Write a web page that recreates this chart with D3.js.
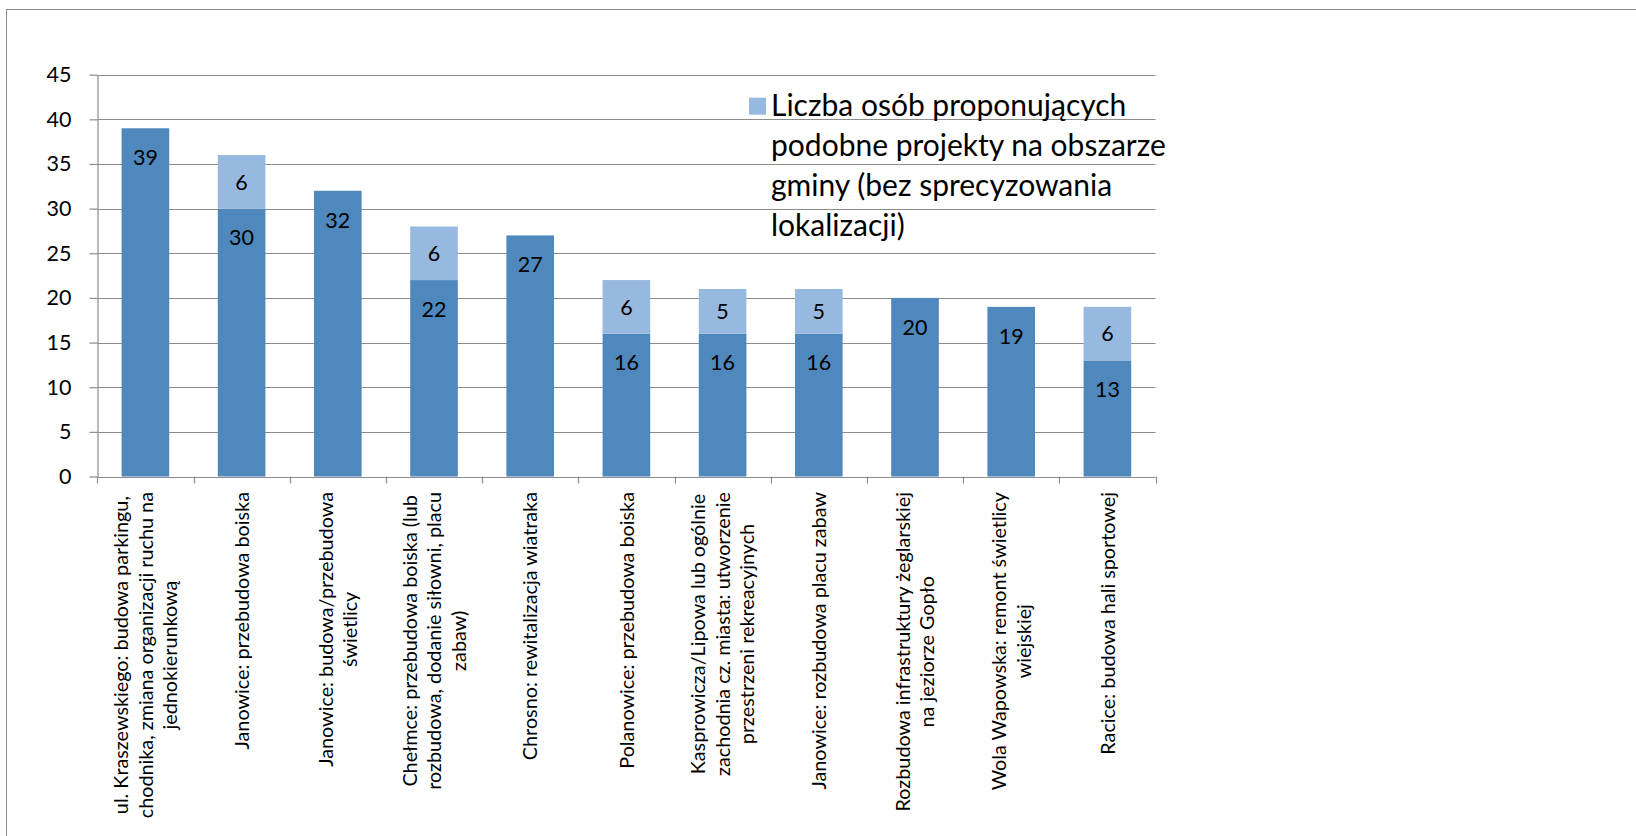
<!DOCTYPE html>
<html><head><meta charset="utf-8">
<script src="https://cdn.jsdelivr.net/npm/d3@7"></script>
<style>
body{margin:0;background:#fff}
svg{display:block}
text{font-family:Lato,"Open Sans",sans-serif;fill:#000}
</style>
</head><body>
<svg id="chart" width="1636" height="836"></svg>
<script>
const categories = [
  "ul. Kraszewskiego: budowa parkingu,|chodnika, zmiana organizacji ruchu na|jednokierunkową",
  "Janowice: przebudowa boiska",
  "Janowice: budowa/przebudowa|świetlicy",
  "Chełmce: przebudowa boiska (lub|rozbudowa, dodanie siłowni, placu|zabaw)",
  "Chrosno: rewitalizacja wiatraka",
  "Polanowice: przebudowa boiska",
  "Kasprowicza/Lipowa lub ogólnie|zachodnia cz. miasta: utworzenie|przestrzeni rekreacyjnych",
  "Janowice: rozbudowa placu zabaw",
  "Rozbudowa infrastruktury żeglarskiej|na jeziorze Gopło",
  "Wola Wapowska: remont świetlicy|wiejskiej",
  "Racice: budowa hali sportowej"
];
const baseValues  = [39, 30, 32, 22, 27, 16, 16, 16, 20, 19, 13];
const extraValues = [0, 6, 0, 6, 0, 6, 5, 5, 0, 0, 6];
const yTicks = [0, 5, 10, 15, 20, 25, 30, 35, 40, 45];
const legendLines = ["Liczba osób proponujących", "podobne projekty na obszarze", "gminy (bez sprecyzowania", "lokalizacji)"];

const svg = d3.select("#chart");
const plot = {left: 97.3, right: 1155.5, top: 74.7, bottom: 476.5};
const darkColor = "#4F88BD", lightColor = "#98B9DF", gridColor = "#8C8C8C";

// chart area frame
svg.append("rect").attr("x", 6.5).attr("y", 9.5).attr("width", 1700).attr("height", 900)
  .attr("fill", "none").attr("stroke", "#8C8C8C").attr("stroke-width", 1);

const x = d3.scaleBand().domain(categories.map((d, i) => i))
  .range([plot.left, plot.right]).paddingInner(0.505).paddingOuter(0.2525);
const y = d3.scaleLinear().domain([0, 45]).range([plot.bottom, plot.top]);

// gridlines
svg.append("g").selectAll("line").data(yTicks.filter(t => t > 0)).join("line")
  .attr("x1", plot.left).attr("x2", plot.right)
  .attr("y1", d => Math.round(y(d)) + 0.5).attr("y2", d => Math.round(y(d)) + 0.5)
  .attr("stroke", gridColor).attr("stroke-width", 1.2);

// y axis
const yAxis = svg.append("g").attr("transform", `translate(${Math.round(plot.left) + 0.5},0)`)
  .call(d3.axisLeft(y).tickValues(yTicks).tickSize(8).tickSizeOuter(0).tickPadding(18));
yAxis.select(".domain").attr("stroke", gridColor).attr("stroke-width", 1.2);
yAxis.selectAll(".tick line").attr("stroke", gridColor).attr("stroke-width", 1.2);
yAxis.selectAll(".tick text").attr("font-size", 21.5).attr("font-family", "Lato").attr("fill", "#000");

// bars
const bars = svg.append("g");
bars.selectAll("rect.base").data(baseValues).join("rect").attr("class", "base")
  .attr("x", (d, i) => x(i)).attr("width", x.bandwidth())
  .attr("y", d => y(d)).attr("height", d => y(0) - y(d)).attr("fill", darkColor);
bars.selectAll("rect.extra").data(extraValues).join("rect").attr("class", "extra")
  .attr("x", (d, i) => x(i)).attr("width", x.bandwidth())
  .attr("y", (d, i) => y(baseValues[i] + d)).attr("height", (d, i) => y(baseValues[i]) - y(baseValues[i] + d))
  .attr("fill", lightColor);

// x axis line and ticks
const xAxisG = svg.append("g");
xAxisG.append("line").attr("x1", plot.left).attr("x2", plot.right)
  .attr("y1", Math.round(plot.bottom) + 0.5).attr("y2", Math.round(plot.bottom) + 0.5)
  .attr("stroke", gridColor).attr("stroke-width", 1.2);
const boundaries = d3.range(categories.length + 1).map(i => plot.left + i * x.step());
xAxisG.selectAll("line.tk").data(boundaries).join("line").attr("class", "tk")
  .attr("x1", d => Math.round(d) + 0.5).attr("x2", d => Math.round(d) + 0.5)
  .attr("y1", plot.bottom).attr("y2", plot.bottom + 7)
  .attr("stroke", gridColor).attr("stroke-width", 1.2);

// data labels
const labelG = svg.append("g").attr("font-size", 21.5).attr("text-anchor", "middle");
labelG.selectAll("text.b").data(baseValues).join("text").attr("class", "b")
  .attr("x", (d, i) => x(i) + x.bandwidth() / 2).attr("y", d => y(d) + 29 + 7.8).text(d => d);
labelG.selectAll("text.e").data(extraValues.map((d, i) => ({d, i})).filter(o => o.d > 0)).join("text").attr("class", "e")
  .attr("x", o => x(o.i) + x.bandwidth() / 2).attr("y", o => y(baseValues[o.i] + o.d / 2) + 7.8).text(o => o.d);

// category labels
const catFont = 19.8, lineH = 24.5, labelTop = 492;
const catG = svg.append("g").attr("font-size", catFont);
categories.forEach((c, i) => {
  const lines = c.split("|");
  const g = catG.append("g").attr("transform", `translate(${x(i) + x.bandwidth() / 2},${labelTop}) rotate(-90)`);
  const ts = lines.map((l, k) => g.append("text").attr("text-anchor", "middle")
    .attr("y", (k - (lines.length - 1) / 2) * lineH + catFont * 0.36).text(l));
  const maxLen = d3.max(ts, t => t.node().getComputedTextLength());
  ts.forEach(t => t.attr("x", -maxLen / 2));
});

// legend
const lg = svg.append("g");
lg.append("rect").attr("x", 749).attr("y", 97.7).attr("width", 17).attr("height", 17).attr("fill", lightColor);
lg.selectAll("text").data(legendLines).join("text")
  .attr("x", 771).attr("y", (d, i) => 115.5 + i * 40.3).attr("font-size", 30).text(d => d);
</script>
</body></html>
